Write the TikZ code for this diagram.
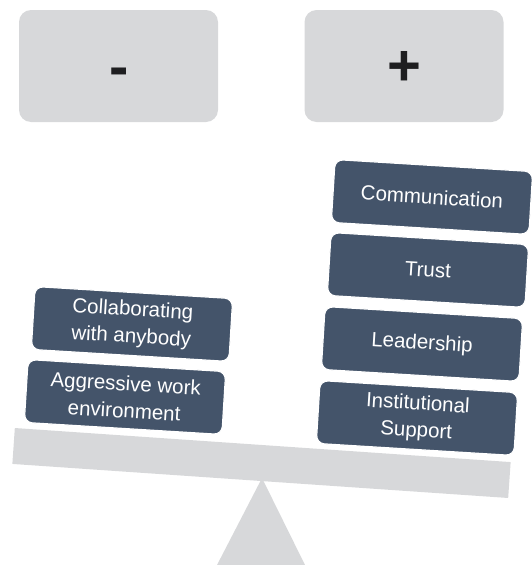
\documentclass[tikz,border=0pt]{standalone}
\usepackage{fontspec}
\setmainfont{Liberation Sans}
\definecolor{panel}{RGB}{215,216,218}
\definecolor{slate}{RGB}{68,84,106}
\definecolor{sym}{RGB}{30,30,32}
\begin{document}
\begin{tikzpicture}[x=1pt,y=-1pt,
  signbox/.style={fill=panel,rounded corners=12pt,minimum width=199pt,minimum height=112pt,inner sep=0pt},
  signtxt/.style={text=sym,font=\fontsize{58}{58}\selectfont\bfseries,inner sep=0pt,anchor=base},
  factor/.style={fill=slate,draw=white,line width=1.2pt,rounded corners=8pt,minimum width=198pt,minimum height=63pt,
    inner sep=0pt,text=white,align=center,font=\fontsize{20.5}{27}\selectfont,rotate=-3.5},
  beamst/.style={fill=panel,minimum width=497pt,minimum height=36pt,inner sep=0pt,rotate=-3.93}]
\useasboundingbox (0,0) rectangle (532,565);
% top panels
\node[signbox] (neg) at (118.5,66) {};
\node[signbox] (pos) at (404,66) {};
\node[signtxt] (minus) at (119,86) {-};
\node[signtxt] (plus) at (404,85) {+};
% fulcrum
\coordinate (apex) at (262,478);
\coordinate (bl) at (217,565);
\coordinate (br) at (305,565);
\fill[panel] (apex) -- (bl) -- (br) -- cycle;
% beam
\node[beamst] (beam) at (261.5,463) {};
% left stack
\node[factor] (aggr) at (125,397) {Aggressive work\\environment};
\node[factor] (collab) at (132,324) {Collaborating\\with anybody};
% right stack
\node[factor] (inst) at (417,418) {Institutional\\Support};
\node[factor] (lead) at (422,344) {Leadership};
\node[factor] (trust) at (428,270) {Trust};
\node[factor] (comm) at (432,197) {Communication};
\end{tikzpicture}
\end{document}
